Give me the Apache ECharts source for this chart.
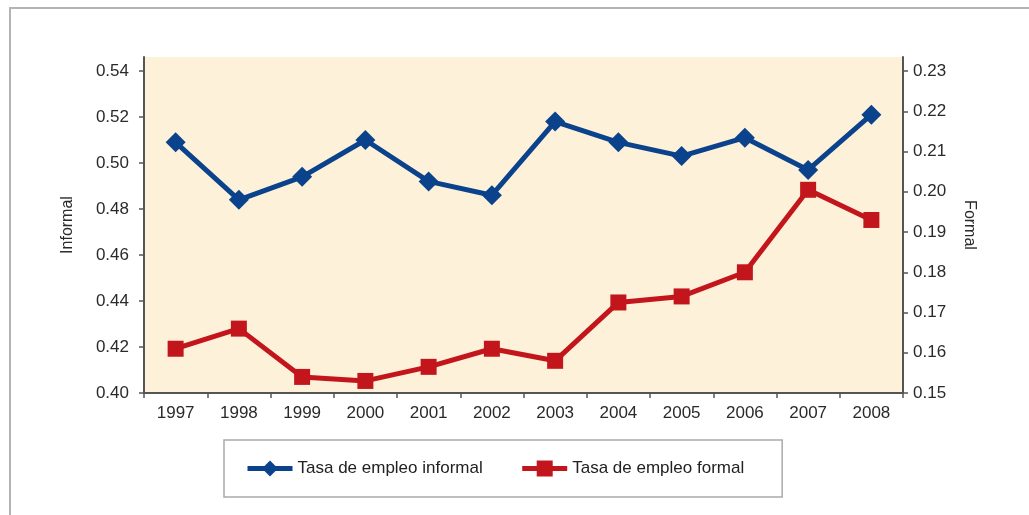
<!DOCTYPE html>
<html>
<head>
<meta charset="utf-8">
<script src="https://cdn.jsdelivr.net/npm/echarts@6/dist/echarts.min.js"></script>
<style>
  html, body { margin: 0; padding: 0; background: #fff; }
  #frame { position: absolute; left: 9px; top: 7px; right: 0; bottom: 0;
           border-left: 2px solid #b4b4b4; border-top: 2px solid #b4b4b4; }
  #chart { position: absolute; left: 0; top: 0; width: 1029px; height: 515px; }
</style>
</head>
<body>
<div id="frame"></div>
<div id="chart"></div>
<script>
// Years on the category axis
const years = ['1997','1998','1999','2000','2001','2002','2003','2004','2005','2006','2007','2008'];
// Informal employment rate (left axis)
const informal = [0.509, 0.484, 0.494, 0.510, 0.492, 0.486, 0.518, 0.509, 0.503, 0.511, 0.497, 0.521];
// Formal employment rate (right axis)
const formal = [0.161, 0.166, 0.154, 0.153, 0.1565, 0.161, 0.158, 0.1725, 0.174, 0.180, 0.2005, 0.193];
// Tick values shown on each value axis
const leftTicks = [0.40, 0.42, 0.44, 0.46, 0.48, 0.50, 0.52, 0.54];
const rightTicks = [0.15, 0.16, 0.17, 0.18, 0.19, 0.20, 0.21, 0.22, 0.23];

const font = 'Liberation Sans, Arial, sans-serif';
const axisColor = '#555';
const textColor = '#2a2a2a';
const blue = '#0b428c';
const red = '#c3161c';

const chart = echarts.init(document.getElementById('chart'), null, { renderer: 'canvas' });
chart.setOption({
  animation: false,
  textStyle: { fontFamily: font },
  grid: {
    left: 144, right: 126, top: 57, bottom: 122,
    show: true, backgroundColor: '#fdf1d9', borderWidth: 0
  },
  legend: {
    left: 224, top: 440,
    padding: [20, 38, 20, 21],
    borderColor: '#aaa', borderWidth: 1.5,
    itemWidth: 45, itemHeight: 20, itemGap: 37,
    textStyle: { fontFamily: font, fontSize: 17, color: '#222' },
    lineStyle: { width: 5 },
    data: ['Tasa de empleo informal', 'Tasa de empleo formal']
  },
  xAxis: {
    type: 'category',
    data: years,
    boundaryGap: true,
    axisLine: { lineStyle: { color: axisColor, width: 2 } },
    axisTick: { show: true, length: 5, lineStyle: { color: axisColor, width: 1.5 } },
    axisLabel: { color: textColor, fontSize: 17, margin: 12, fontFamily: font },
    splitLine: { show: false }
  },
  yAxis: [
    {
      type: 'value', position: 'left',
      min: 0.40, max: 0.5461,
      name: 'Informal', nameLocation: 'middle', nameGap: 68, nameRotate: 90,
      nameTextStyle: { color: textColor, fontSize: 16, fontFamily: font },
      axisLine: { show: true, lineStyle: { color: axisColor, width: 2 } },
      axisTick: { show: true, length: 5, customValues: leftTicks, lineStyle: { color: axisColor, width: 1.5 } },
      axisLabel: { color: textColor, fontSize: 17, margin: 15, fontFamily: font,
                   customValues: leftTicks, formatter: v => v.toFixed(2) },
      splitLine: { show: false }
    },
    {
      type: 'value', position: 'right',
      min: 0.15, max: 0.2335,
      name: 'Formal', nameLocation: 'middle', nameGap: 58, nameRotate: -90,
      nameTextStyle: { color: textColor, fontSize: 16, fontFamily: font },
      axisLine: { show: true, lineStyle: { color: axisColor, width: 2 } },
      axisTick: { show: true, length: 5, customValues: rightTicks, lineStyle: { color: axisColor, width: 1.5 } },
      axisLabel: { color: textColor, fontSize: 17, margin: 10, fontFamily: font,
                   customValues: rightTicks, formatter: v => v.toFixed(2) },
      splitLine: { show: false }
    }
  ],
  series: [
    {
      name: 'Tasa de empleo informal',
      type: 'line', yAxisIndex: 0,
      data: informal,
      symbol: 'diamond', symbolSize: 20,
      lineStyle: { color: blue, width: 5 },
      itemStyle: { color: blue }
    },
    {
      name: 'Tasa de empleo formal',
      type: 'line', yAxisIndex: 1,
      data: formal,
      symbol: 'rect', symbolSize: 16,
      lineStyle: { color: red, width: 5 },
      itemStyle: { color: red }
    }
  ]
});
</script>
</body>
</html>
